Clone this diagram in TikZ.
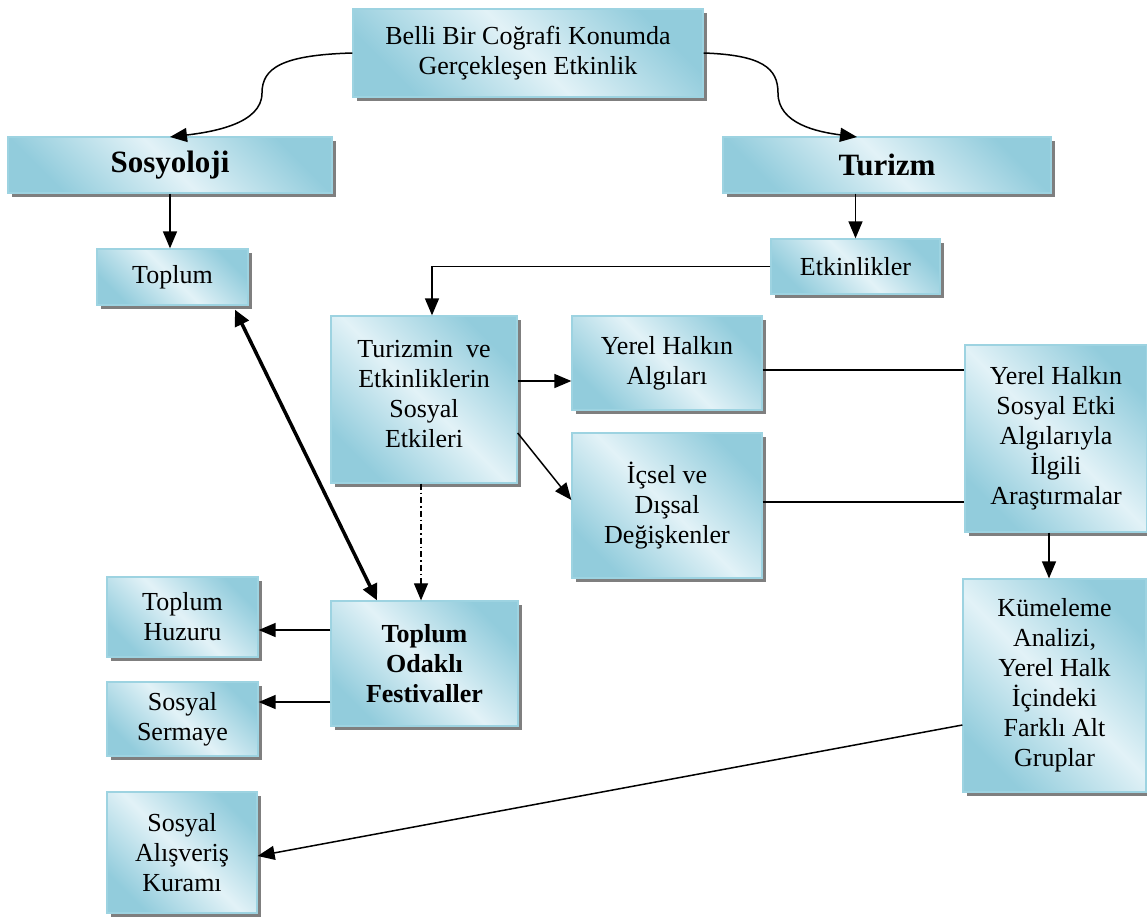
\documentclass[tikz,border=0pt]{standalone}
\usepackage{fontspec}
\setmainfont{Liberation Serif}
\usetikzlibrary{arrows.meta,shadows,calc}
\definecolor{boxdark}{HTML}{92CCDC}
\definecolor{boxlight}{HTML}{E2F2F7}
\definecolor{boxedge}{HTML}{9DD3E1}
\definecolor{shadowgray}{HTML}{7F7F7F}
\tikzset{
  box/.style={draw=boxedge, line width=1.3pt, shading=axis, top color=boxdark,
    bottom color=boxdark, middle color=boxlight, shading angle=-45,
    general shadow={fill=shadowgray, shadow xshift=4pt, shadow yshift=-4pt},
    align=center, inner sep=0pt, font=\fontsize{26}{30}\selectfont},
  arr/.style={line width=1.5pt, -{Triangle[length=17pt,width=14pt]}},
  plain/.style={line width=1.5pt},
  thickarr/.style={line width=3.5pt, {Triangle[length=16pt,width=15pt]}-{Triangle[length=16pt,width=15pt]}},
  dd/.style={line width=1.2pt, dash pattern=on 6pt off 3pt on 1.5pt off 3pt, -{Triangle[length=17pt,width=14pt]}}
}
\begin{document}
\begin{tikzpicture}[x=1pt,y=-1pt]
\useasboundingbox (0,0) rectangle (1147,921);
\node[box, minimum width=350pt, minimum height=88pt] (top) at (528,53) {Belli Bir Coğrafi Konumda\\Gerçekleşen Etkinlik};
\node[box, minimum width=324pt, minimum height=56pt, font=\fontsize{31}{34}\selectfont\bfseries] (soc) at (170,165) {Sosyoloji};
\node[box, minimum width=328pt, minimum height=56pt, font=\fontsize{31}{34}\selectfont\bfseries] (tur) at (887,165) {Turizm};
\node[box, minimum width=151pt, minimum height=56pt] (toplum) at (172.5,277) {Toplum};
\node[box, minimum width=169pt, minimum height=55pt] (etk) at (855.5,266.5) {Etkinlikler};
\node[box, minimum width=186pt, minimum height=167pt, text depth=12pt] (tse) at (424,399.5) {Turizmin\ \ ve\\Etkinliklerin\\Sosyal\\Etkileri};
\node[box, minimum width=190pt, minimum height=94pt] (alg) at (667,363) {Yerel Halkın\\Algıları};
\node[box, minimum width=190pt, minimum height=145pt] (ics) at (667,505.5) {İçsel ve\\Dışsal\\Değişkenler};
\node[box, minimum width=182pt, minimum height=187pt] (ara) at (1056,438.5) {Yerel Halkın\\Sosyal Etki\\Algılarıyla\\İlgili\\Araştırmalar};
\node[box, minimum width=183pt, minimum height=213pt] (kum) at (1054.5,685.5) {Kümeleme\\Analizi,\\Yerel Halk\\İçindeki\\Farklı Alt\\Gruplar};
\node[box, minimum width=187pt, minimum height=125pt, font=\fontsize{26}{30}\selectfont\bfseries] (fest) at (424.5,663.5) {Toplum\\Odaklı\\Festivaller};
\node[box, minimum width=151pt, minimum height=80pt] (huz) at (182.5,617) {Toplum\\Huzuru};
\node[box, minimum width=151pt, minimum height=74pt] (ser) at (182.5,719) {Sosyal\\Sermaye};
\node[box, minimum width=150pt, minimum height=121pt] (sak) at (182,852.5) {Sosyal\\Alışveriş\\Kuramı};

% curved connectors
\coordinate (socin) at (170,137);
\coordinate (turin) at (857,137);
\draw[arr] (top.west) .. controls (282,55) and (262,68) .. (262,93) .. controls (262,124) and (212,132) .. (socin);
\draw[arr] (top.east) .. controls (762,55) and (778,68) .. (778,93) .. controls (778,124) and (818,132) .. (turin);

\draw[arr] (soc.south) -- (soc.south |- toplum.north);
\draw[arr] (etk.north |- tur.south) -- (etk.north);
\draw[arr] (etk.west) -| ([xshift=8pt]tse.north);
\draw[arr] ([yshift=18.5pt]tse.east) coordinate (a1) -- (a1 -| alg.west);
\draw[arr] ([yshift=-33.5pt]tse.east) -- ([yshift=5.5pt]ics.west);
\draw[plain] ([yshift=-7pt]alg.east) coordinate (a2) -- (a2 -| ara.west);
\draw[plain] ([yshift=3.5pt]ics.east) coordinate (a3) -- (a3 -| ara.west);
\draw[arr] ([xshift=-7pt]ara.south) coordinate (a4) -- (a4 |- kum.north);
\draw[arr] ([yshift=-39.5pt]kum.west) -- ([yshift=-3.5pt]sak.east);
\draw[thickarr] ([xshift=62.5pt,yshift=-4pt]toplum.south) -- ([xshift=-47.5pt]fest.north);
\draw[dd] ([xshift=-3pt]tse.south) coordinate (a5) -- (a5 |- fest.north);
\draw[arr] ([yshift=33.5pt]fest.west) coordinate (a6) -- (a6 -| huz.east);
\draw[arr] ([yshift=-38.5pt]fest.west) coordinate (a7) -- (a7 -| ser.east);
\end{tikzpicture}
\end{document}
